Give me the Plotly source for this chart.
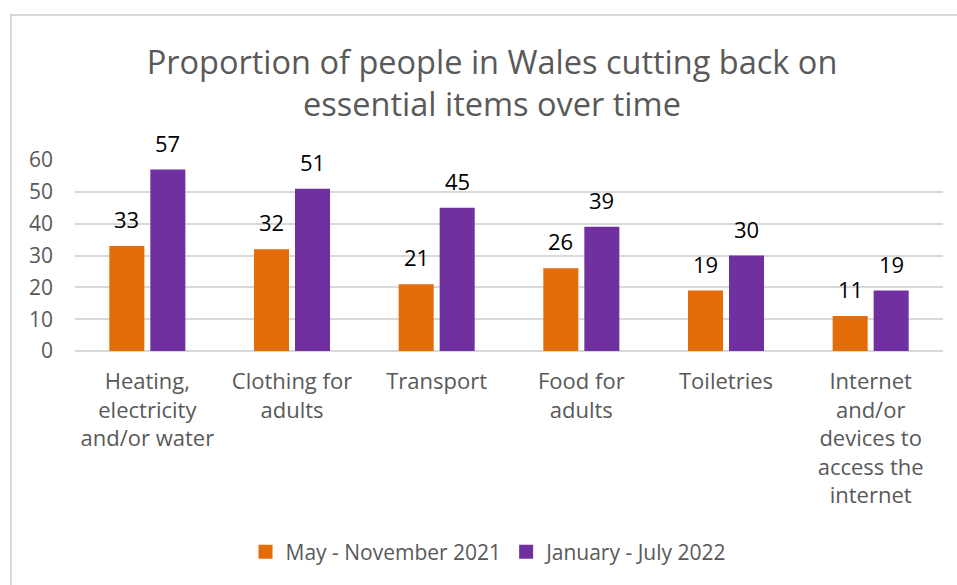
import plotly.graph_objects as go

# Categories of essential items (multi-line tick labels)
categories = [
    "Heating,<br>electricity<br>and/or water",
    "Clothing for<br>adults",
    "Transport",
    "Food for<br>adults",
    "Toiletries",
    "Internet<br>and/or<br>devices to<br>access the<br>internet",
]
series_names = ["May - November 2021", "January - July 2022"]
values_2021 = [33, 32, 21, 26, 19, 11]
values_2022 = [57, 51, 45, 39, 30, 19]
y_ticks = [0, 10, 20, 30, 40, 50, 60]

ORANGE = "#E46C0A"
PURPLE = "#7030A0"
GREY_TEXT = "#595959"
FONT = "Open Sans"

W, H = 957, 585
L, R, T, B = 75, 14, 160, 234
pw, ph = W - L - R, H - T - B

def px_x(p):
    return (p - L) / pw

def px_y(p):
    return (H - B - p) / ph

fig = go.Figure()
series = [(series_names[0], values_2021, ORANGE, -20.5),
          (series_names[1], values_2022, PURPLE, 20.5)]
annotations = []
for name, vals, col, dx in series:
    fig.add_trace(go.Bar(
        name=name, x=categories, y=vals,
        marker=dict(color=col, line=dict(width=0)),
        showlegend=False,
    ))
    # square legend swatch
    fig.add_trace(go.Scatter(
        name=name, x=[None], y=[None], mode="markers",
        marker=dict(symbol="square", size=14, color=col),
        showlegend=True,
    ))
    for c, v in zip(categories, vals):
        annotations.append(dict(
            x=c, y=v, xref="x", yref="y", text=str(v), showarrow=False,
            xshift=dx, yshift=27, yanchor="middle", xanchor="center",
            font=dict(family=FONT, size=22, color="#000000"),
        ))

fig.update_layout(
    width=W, height=H,
    margin=dict(l=L, r=R, t=T, b=B, pad=0),
    paper_bgcolor="white", plot_bgcolor="white",
    barmode="group", bargap=0.433, bargroupgap=0.146,
    font=dict(family=FONT, color=GREY_TEXT),
    title=dict(
        text="Proportion of people in Wales cutting back on<br>essential items over time",
        font=dict(family=FONT, size=32.5, color=GREY_TEXT),
        x=px_x(492), xref="paper", xanchor="center",
        y=1 - 74 / H, yref="container", yanchor="middle",
    ),
    legend=dict(
        orientation="h", x=px_x(489), xanchor="center",
        y=px_y(552), yanchor="middle",
        font=dict(family=FONT, size=21, color=GREY_TEXT),
        traceorder="normal", itemwidth=30,
    ),
    annotations=annotations,
    xaxis=dict(
        showgrid=False, showline=False, ticks="",
        tickfont=dict(family=FONT, size=22, color=GREY_TEXT),
        ticklabelstandoff=15,
    ),
    yaxis=dict(
        range=[0, 60], tickvals=y_ticks,
        showgrid=True, gridcolor="#D9D9D9", gridwidth=1.5,
        zeroline=True, zerolinecolor="#D9D9D9", zerolinewidth=1.5,
        showline=False, ticks="",
        tickfont=dict(family=FONT, size=21, color=GREY_TEXT),
        ticklabelstandoff=21,
    ),
    shapes=[dict(
        type="rect", xref="paper", yref="paper",
        x0=px_x(11), x1=px_x(965), y0=px_y(600), y1=px_y(15),
        line=dict(color="#D9D9D9", width=2), fillcolor="rgba(0,0,0,0)",
        layer="below",
    )],
)

fig.write_html("out.html")
